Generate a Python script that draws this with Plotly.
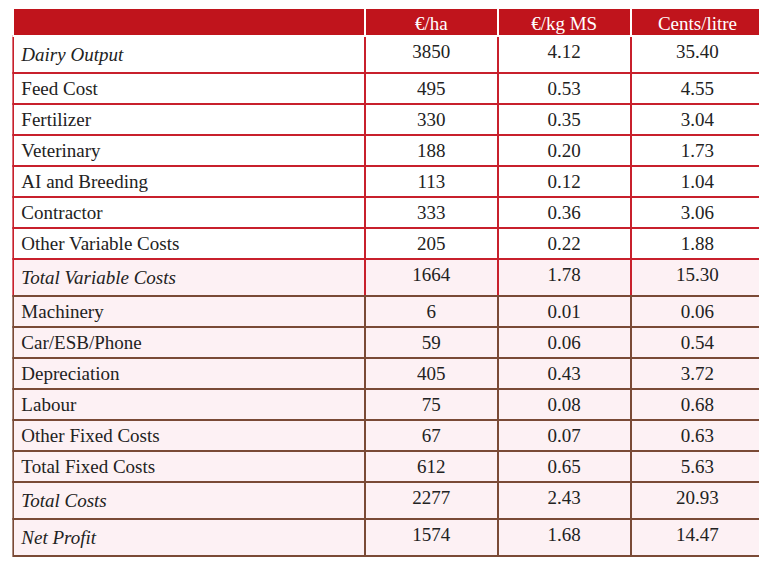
import plotly.graph_objects as go

headers = ["", "€/ha", "€/kg MS", "Cents/litre"]
items = ["Dairy Output", "Feed Cost", "Fertilizer", "Veterinary", "AI and Breeding", "Contractor",
         "Other Variable Costs", "Total Variable Costs", "Machinery", "Car/ESB/Phone", "Depreciation",
         "Labour", "Other Fixed Costs", "Total Fixed Costs", "Total Costs", "Net Profit"]
per_ha = ["3850", "495", "330", "188", "113", "333", "205", "1664", "6", "59", "405", "75", "67", "612", "2277", "1574"]
per_kg = ["4.12", "0.53", "0.35", "0.20", "0.12", "0.36", "0.22", "1.78", "0.01", "0.06", "0.43", "0.08", "0.07", "0.65", "2.43", "1.68"]
cents = ["35.40", "4.55", "3.04", "1.73", "1.04", "3.06", "1.88", "15.30", "0.06", "0.54", "3.72", "0.68", "0.63", "5.63", "20.93", "14.47"]
italic_rows = {"Dairy Output", "Total Variable Costs", "Total Costs", "Net Profit"}

labels = ["<i>%s</i>" % s if s in italic_rows else s for s in items]
n = len(items)
line_cols = ["#c8202c" if i < 8 else "#7a4a36" for i in range(n)]
fills = ["#ffffff" if i < 7 else "#fdf1f4" for i in range(n)]

fig = go.Figure(go.Table(
    columnwidth=[352, 133, 133, 134],
    header=dict(values=headers, fill_color="#c0141c", line=dict(color="#ffffff", width=2),
                font=dict(family="Liberation Serif", size=19, color="white"), align="center", height=28),
    cells=dict(values=[labels, per_ha, per_kg, cents],
               fill_color=[fills] * 4,
               line=dict(color=[line_cols] * 4, width=2),
               font=dict(family="Liberation Serif", size=19, color="#222222"),
               align=["left", "center", "center", "center"], height=31),
    domain=dict(x=[0.007, 0.987], y=[0, 1]),
))
fig.update_layout(width=767, height=566, margin=dict(l=0, r=0, t=0, b=0), paper_bgcolor="white")
fig.write_html("out.html")
